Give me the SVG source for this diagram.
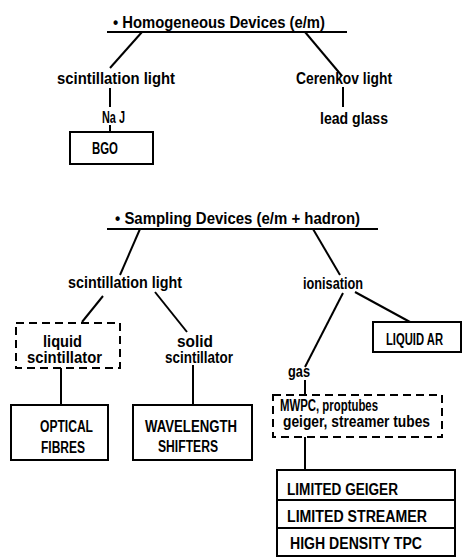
<svg xmlns="http://www.w3.org/2000/svg" width="466" height="557" viewBox="0 0 466 557">
<style>
text{font-family:"Liberation Sans",Arial,sans-serif;font-weight:bold;font-size:16px;fill:#000}
.cap{font-size:16px}
.ln{stroke:#000;stroke-width:2;fill:none}
.box{stroke:#000;stroke-width:2;fill:#fff}
.dash{stroke:#000;stroke-width:2;fill:#fff;stroke-dasharray:8 5}
</style>
<rect width="466" height="557" fill="#fff"/>
<g id="connectors">
<line class="ln" x1="107" y1="32" x2="347" y2="32"/>
<line class="ln" x1="142" y1="32" x2="110" y2="68"/>
<line class="ln" x1="305" y1="32" x2="342" y2="76"/>
<line class="ln" x1="110" y1="88" x2="110" y2="107"/>
<line class="ln" x1="110" y1="125" x2="110" y2="132"/>
<line class="ln" x1="343" y1="87" x2="343" y2="107"/>
<line class="ln" x1="107" y1="229" x2="378" y2="229"/>
<line class="ln" x1="140" y1="229" x2="120" y2="275"/>
<line class="ln" x1="313" y1="229" x2="340" y2="275"/>
<line class="ln" x1="103" y1="296" x2="82" y2="322"/>
<line class="ln" x1="155" y1="292" x2="187" y2="332"/>
<line class="ln" x1="61" y1="368" x2="61" y2="405"/>
<line class="ln" x1="193" y1="365" x2="193" y2="405"/>
<line class="ln" x1="343" y1="293" x2="305" y2="367"/>
<line class="ln" x1="355" y1="292" x2="410" y2="322"/>
<line class="ln" x1="305" y1="380" x2="305" y2="395"/>
<line class="ln" x1="305" y1="437" x2="305" y2="470"/>
</g>
<g id="title1"><text x="113" y="28" textLength="212" lengthAdjust="spacingAndGlyphs">• Homogeneous  Devices (e/m)</text></g>
<g id="scint1"><text x="57" y="84" textLength="118" lengthAdjust="spacingAndGlyphs">scintillation  light</text></g>
<g id="cerenkov"><text x="296" y="84" textLength="96" lengthAdjust="spacingAndGlyphs">Cerenkov  light</text></g>
<g id="naj"><text x="102" y="123" textLength="23" lengthAdjust="spacingAndGlyphs">Na J</text></g>
<g id="bgo"><rect class="box" x="70" y="132" width="83" height="32"/><text class="cap" x="92" y="154" textLength="26" lengthAdjust="spacingAndGlyphs">BGO</text></g>
<g id="leadglass"><text x="320" y="124" textLength="68" lengthAdjust="spacingAndGlyphs">lead  glass</text></g>
<g id="title2"><text x="115" y="224" textLength="245" lengthAdjust="spacingAndGlyphs">• Sampling   Devices  (e/m + hadron)</text></g>
<g id="scint2"><text x="68" y="288" textLength="114" lengthAdjust="spacingAndGlyphs">scintillation light</text></g>
<g id="ionisation"><text x="303" y="289" textLength="60" lengthAdjust="spacingAndGlyphs">ionisation</text></g>
<g id="liquid"><rect class="dash" x="16" y="323" width="104" height="45"/><text x="43" y="347" textLength="39" lengthAdjust="spacingAndGlyphs">liquid</text><text x="27" y="363" textLength="75" lengthAdjust="spacingAndGlyphs">scintillator</text></g>
<g id="solid"><text x="177" y="347" textLength="36" lengthAdjust="spacingAndGlyphs">solid</text><text x="165" y="363" textLength="68" lengthAdjust="spacingAndGlyphs">scintillator</text></g>
<g id="optical"><rect class="box" x="11" y="405" width="97" height="55"/><text class="cap" x="40" y="432" textLength="53" lengthAdjust="spacingAndGlyphs">OPTICAL</text><text class="cap" x="41" y="453" textLength="44" lengthAdjust="spacingAndGlyphs">FIBRES</text></g>
<g id="wavelength"><rect class="box" x="133" y="405" width="119" height="55"/><text class="cap" x="145" y="432" textLength="92" lengthAdjust="spacingAndGlyphs">WAVELENGTH</text><text class="cap" x="158" y="452" textLength="60" lengthAdjust="spacingAndGlyphs">SHIFTERS</text></g>
<g id="liquidar"><rect class="box" x="373" y="322" width="88" height="30"/><text class="cap" x="386" y="345" textLength="57" lengthAdjust="spacingAndGlyphs">LIQUID AR</text></g>
<g id="gas"><text x="288" y="377" textLength="22" lengthAdjust="spacingAndGlyphs">gas</text></g>
<g id="mwpc"><rect class="dash" x="273" y="395" width="169" height="42"/><text x="280" y="411" textLength="98" lengthAdjust="spacingAndGlyphs">MWPC, proptubes</text><text x="283" y="427" textLength="147" lengthAdjust="spacingAndGlyphs">geiger, streamer tubes</text></g>
<g id="gasmodes"><rect class="box" x="277" y="470" width="178" height="86"/><line class="ln" x1="277" y1="500" x2="455" y2="500"/><line class="ln" x1="277" y1="528" x2="455" y2="528"/><text class="cap" x="287" y="495" textLength="111" lengthAdjust="spacingAndGlyphs">LIMITED GEIGER</text><text class="cap" x="287" y="522" textLength="140" lengthAdjust="spacingAndGlyphs">LIMITED STREAMER</text><text class="cap" x="290" y="549" textLength="132" lengthAdjust="spacingAndGlyphs">HIGH DENSITY TPC</text></g>
</svg>
